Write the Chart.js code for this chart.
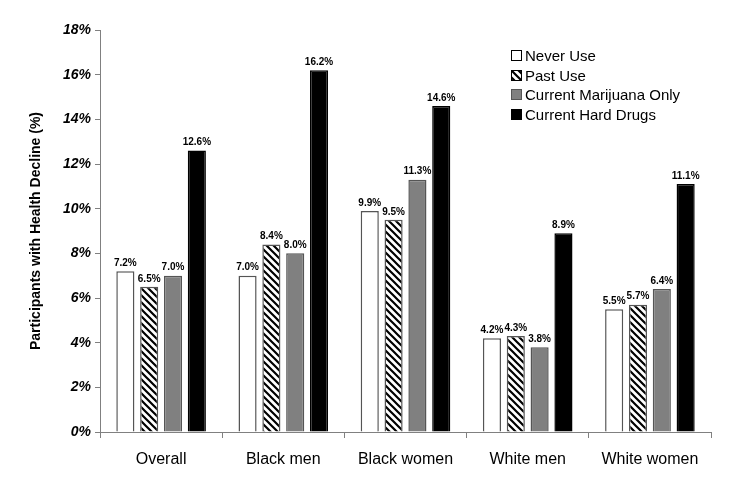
<!DOCTYPE html>
<html>
<head>
<meta charset="utf-8">
<script src="https://cdn.jsdelivr.net/npm/chart.js@4/dist/chart.umd.min.js"></script>
<style>
  html, body { margin: 0; padding: 0; background: #fff; }
  #wrap { width: 730px; height: 487px; }
</style>
</head>
<body>
<div id="wrap"><canvas id="chart" width="730" height="487"></canvas></div>
<script>
// chart data
const categories = ['Overall', 'Black men', 'Black women', 'White men', 'White women'];
const seriesNames = ['Never Use', 'Past Use', 'Current Marijuana Only', 'Current Hard Drugs'];
const neverUse = [7.2, 7.0, 9.9, 4.2, 5.5];
const pastUse = [6.5, 8.4, 9.5, 4.3, 5.7];
const marijuanaOnly = [7.0, 8.0, 11.3, 3.8, 6.4];
const hardDrugs = [12.6, 16.2, 14.6, 8.9, 11.1];
const yTicks = [0, 2, 4, 6, 8, 10, 12, 14, 16, 18];

// diagonal hatch for the "past use" bars
function makeHatch() {
  const c = document.createElement('canvas');
  c.width = 7; c.height = 7;
  const g = c.getContext('2d');
  g.fillStyle = '#fff';
  g.fillRect(0, 0, 7, 7);
  g.strokeStyle = '#000';
  g.lineWidth = 2.2;
  g.beginPath();
  g.moveTo(-2, -2); g.lineTo(9, 9);
  g.moveTo(-9, -2); g.lineTo(2, 9);
  g.moveTo(5, -2); g.lineTo(16, 9);
  g.stroke();
  return g.createPattern(c, 'repeat');
}
const hatch = makeHatch();

const fills = ['#ffffff', hatch, '#808080', '#000000'];
const borders = ['#555555', '#555555', '#555555', '#000000'];
const values = [neverUse, pastUse, marijuanaOnly, hardDrugs];

// value labels above each bar
const barLabels = {
  id: 'barLabels',
  afterDatasetsDraw(chart) {
    const ctx = chart.ctx;
    ctx.save();
    ctx.font = 'bold 10px Arial, "Liberation Sans"';
    ctx.fillStyle = '#000';
    ctx.textAlign = 'center';
    ctx.textBaseline = 'bottom';
    chart.data.datasets.forEach((ds, i) => {
      chart.getDatasetMeta(i).data.forEach((bar, j) => {
        ctx.fillText(ds.data[j].toFixed(1) + '%', bar.x, bar.y - 3);
      });
    });
    ctx.restore();
  }
};

// legend box in the top right of the plot
const boxLegend = {
  id: 'boxLegend',
  afterDraw(chart) {
    const ctx = chart.ctx;
    const x = 511, y0 = 50, step = 19.5, box = 11;
    ctx.save();
    ctx.font = '15px Arial, "Liberation Sans"';
    ctx.textBaseline = 'middle';
    chart.data.datasets.forEach((ds, i) => {
      const y = Math.round(y0 + i * step);
      ctx.fillStyle = ds.backgroundColor;
      ctx.fillRect(x, y, box, box);
      ctx.strokeStyle = i == 2 ? '#555' : '#000';
      ctx.lineWidth = 1;
      ctx.strokeRect(x + 0.5, y + 0.5, box - 1, box - 1);
      ctx.fillStyle = '#000';
      ctx.fillText(ds.label, x + box + 3, y + box / 2 + 1);
    });
    ctx.restore();
  }
};

new Chart(document.getElementById('chart'), {
  type: 'bar',
  data: {
    labels: categories,
    datasets: seriesNames.map((name, i) => ({
      label: name,
      data: values[i],
      backgroundColor: fills[i],
      borderColor: borders[i],
      borderWidth: 1.5,
      categoryPercentage: 0.78,
      barPercentage: 0.76
    }))
  },
  options: {
    responsive: false,
    animation: false,
    layout: { padding: { top: 30, right: 19, left: 0, bottom: 0 } },
    plugins: {
      legend: { display: false },
      tooltip: { enabled: false }
    },
    scales: {
      x: {
        grid: { display: true, offset: true, drawOnChartArea: false, color: '#808080', tickLength: 6 },
        border: { color: '#808080', width: 1 },
        ticks: { color: '#000', font: { family: 'Arial, "Liberation Sans"', size: 16 }, padding: 12 },
        afterFit(scale) { scale.height = 55; }
      },
      y: {
        min: 0,
        max: 18,
        afterBuildTicks(scale) { scale.ticks = yTicks.map(v => ({ value: v })); },
        grid: { display: true, drawOnChartArea: false, color: '#808080', tickLength: 5 },
        border: { color: '#808080', width: 1 },
        ticks: {
          color: '#000',
          font: { family: 'Arial, "Liberation Sans"', size: 14, weight: 'bold', style: 'italic' },
          padding: 4,
          callback: v => v + '%'
        },
        title: {
          display: true,
          text: 'Participants with Health Decline (%)',
          color: '#000',
          font: { family: 'Arial, "Liberation Sans"', size: 14, weight: 'bold' },
          padding: { top: 28, bottom: 0 }
        },
        afterFit(scale) { scale.width = 100; }
      }
    }
  },
  plugins: [barLabels, boxLegend]
});
</script>
</body>
</html>
